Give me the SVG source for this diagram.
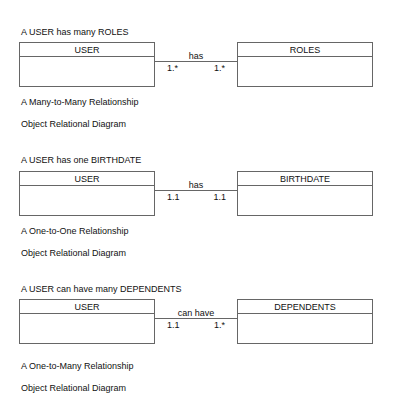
<svg xmlns="http://www.w3.org/2000/svg" width="400" height="400" viewBox="0 0 400 400">
<style>
text{font-family:"Liberation Sans",Arial,sans-serif;font-size:9px;fill:#111}
.c{text-anchor:middle}
.box{fill:#fff;stroke:#666;stroke-width:1}
.ln{stroke:#666;stroke-width:1;fill:none}
</style>
<rect width="400" height="400" fill="#fff"/>
<g id="captions">
<text x="21" y="35">A USER has many ROLES</text>
<text x="21" y="104.5">A Many-to-Many Relationship</text>
<text x="21" y="126.5">Object Relational Diagram</text>
<text x="21" y="162.5">A USER has one BIRTHDATE</text>
<text x="21" y="233.5">A One-to-One Relationship</text>
<text x="21" y="255.5">Object Relational Diagram</text>
<text x="21" y="291.5">A USER can have many DEPENDENTS</text>
<text x="21" y="368.5">A One-to-Many Relationship</text>
<text x="21" y="390.5">Object Relational Diagram</text>
</g>
<g id="user1">
<rect class="box" x="19.5" y="42.5" width="135" height="44"/>
<line class="ln" x1="19.5" y1="56.5" x2="154.5" y2="56.5"/>
<text class="c" x="87" y="53.3">USER</text>
</g>
<g id="roles">
<rect class="box" x="237.5" y="42.5" width="135" height="44"/>
<line class="ln" x1="237.5" y1="56.5" x2="372.5" y2="56.5"/>
<text class="c" x="305" y="53.3">ROLES</text>
</g>
<g id="user2">
<rect class="box" x="19.5" y="171.5" width="135" height="44"/>
<line class="ln" x1="19.5" y1="185.5" x2="154.5" y2="185.5"/>
<text class="c" x="87" y="182.3">USER</text>
</g>
<g id="birthdate">
<rect class="box" x="237.5" y="171.5" width="135" height="44"/>
<line class="ln" x1="237.5" y1="185.5" x2="372.5" y2="185.5"/>
<text class="c" x="305" y="182.3">BIRTHDATE</text>
</g>
<g id="user3">
<rect class="box" x="19.5" y="299.5" width="135" height="44"/>
<line class="ln" x1="19.5" y1="313.5" x2="154.5" y2="313.5"/>
<text class="c" x="87" y="310.3">USER</text>
</g>
<g id="dependents">
<rect class="box" x="237.5" y="299.5" width="135" height="44"/>
<line class="ln" x1="237.5" y1="313.5" x2="372.5" y2="313.5"/>
<text class="c" x="305" y="310.3">DEPENDENTS</text>
</g>
<g id="connectors">
<line class="ln" x1="154.5" y1="61.5" x2="237.5" y2="61.5"/>
<text class="c" x="196" y="58.5">has</text>
<text x="167" y="71">1.*</text>
<text x="214" y="71">1.*</text>
<line class="ln" x1="154.5" y1="190.5" x2="237.5" y2="190.5"/>
<text class="c" x="196" y="187.5">has</text>
<text x="167" y="200">1.1</text>
<text x="213.5" y="200">1.1</text>
<line class="ln" x1="154.5" y1="318.5" x2="237.5" y2="318.5"/>
<text class="c" x="196" y="315.5">can have</text>
<text x="167" y="328">1.1</text>
<text x="214" y="328">1.*</text>
</g>
</svg>
